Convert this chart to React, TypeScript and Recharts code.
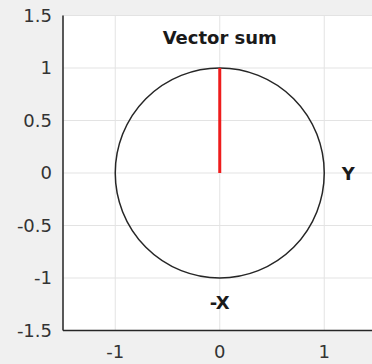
import {
  ScatterChart,
  Scatter,
  XAxis,
  YAxis,
  CartesianGrid,
  ReferenceArea,
  ReferenceDot,
} from "recharts"

// axis setup
const X_DOMAIN = [-1.5, 1.5]
const Y_DOMAIN = [-1.5, 1.5]
const xTicks = [-1, 0, 1]
const yTicks = [-1.5, -1, -0.5, 0, 0.5, 1, 1.5]

// unit circle
const circleCenter = { x: 0, y: 0 }
const circleRadius = 1

// resulting vector, from origin to tip
const vectorX = [0, 0]
const vectorY = [0, 1]

// text annotations
const labelText = ["Vector sum", "Y", "-X"]
const labelX = [0, 1.23, 0]
const labelY = [1.29, 0, -1.23]

const vectorData = vectorX.map((x, i) => ({ x, y: vectorY[i] }))
const labels = labelText.map((text, i) => ({ text, x: labelX[i], y: labelY[i] }))

const AXIS_COLOR = "#262626"
const FONT = "'DejaVu Sans', Verdana, sans-serif"

function CircleShape(props: any) {
  const { x, y, width, height } = props
  return (
    <ellipse
      cx={x + width / 2}
      cy={y + height / 2}
      rx={Math.abs(width) / 2}
      ry={Math.abs(height) / 2}
      fill="none"
      stroke={AXIS_COLOR}
      strokeWidth={1.5}
    />
  )
}

function labelShape(text: string) {
  return (props: any) => (
    <text
      x={props.cx}
      y={props.cy}
      textAnchor="middle"
      dominantBaseline="central"
      fontFamily={FONT}
      fontWeight="bold"
      fontSize={18}
      fill="#1a1a1a"
    >
      {text}
    </text>
  )
}

export default function App() {
  return (
    <div
      style={{
        position: "absolute",
        left: 0,
        top: 0,
        width: 372,
        height: 364,
        overflow: "hidden",
        background: "#f0f0f0",
      }}
    >
      <ScatterChart
        width={377}
        height={364}
        margin={{ top: 15.5, right: 0.5, bottom: 0, left: 0 }}
      >
        <CartesianGrid
          fill="#ffffff"
          stroke="#e3e3e3"
          strokeWidth={1}
        />
        <XAxis
          type="number"
          dataKey="x"
          domain={X_DOMAIN}
          ticks={xTicks}
          height={33.5}
          tickSize={0}
          tickMargin={15}
          axisLine={{ stroke: AXIS_COLOR, strokeWidth: 1.5 }}
          tick={{ fontSize: 18, fill: "#333333", fontFamily: FONT }}
          allowDataOverflow
        />
        <YAxis
          type="number"
          dataKey="y"
          domain={Y_DOMAIN}
          ticks={yTicks}
          width={63}
          tickSize={0}
          tickMargin={11}
          axisLine={{ stroke: AXIS_COLOR, strokeWidth: 1.5 }}
          tick={{ fontSize: 18, fill: "#333333", fontFamily: FONT }}
          allowDataOverflow
        />
        <ReferenceArea
          x1={circleCenter.x - circleRadius}
          x2={circleCenter.x + circleRadius}
          y1={circleCenter.y - circleRadius}
          y2={circleCenter.y + circleRadius}
          shape={CircleShape}
        />
        <Scatter
          data={vectorData}
          line={{ stroke: "#ee1c1c", strokeWidth: 3 }}
          shape={() => <g />}
          isAnimationActive={false}
        />
        {labels.map((l) => (
          <ReferenceDot
            key={l.text}
            x={l.x}
            y={l.y}
            r={0}
            shape={labelShape(l.text)}
          />
        ))}
      </ScatterChart>
    </div>
  )
}
